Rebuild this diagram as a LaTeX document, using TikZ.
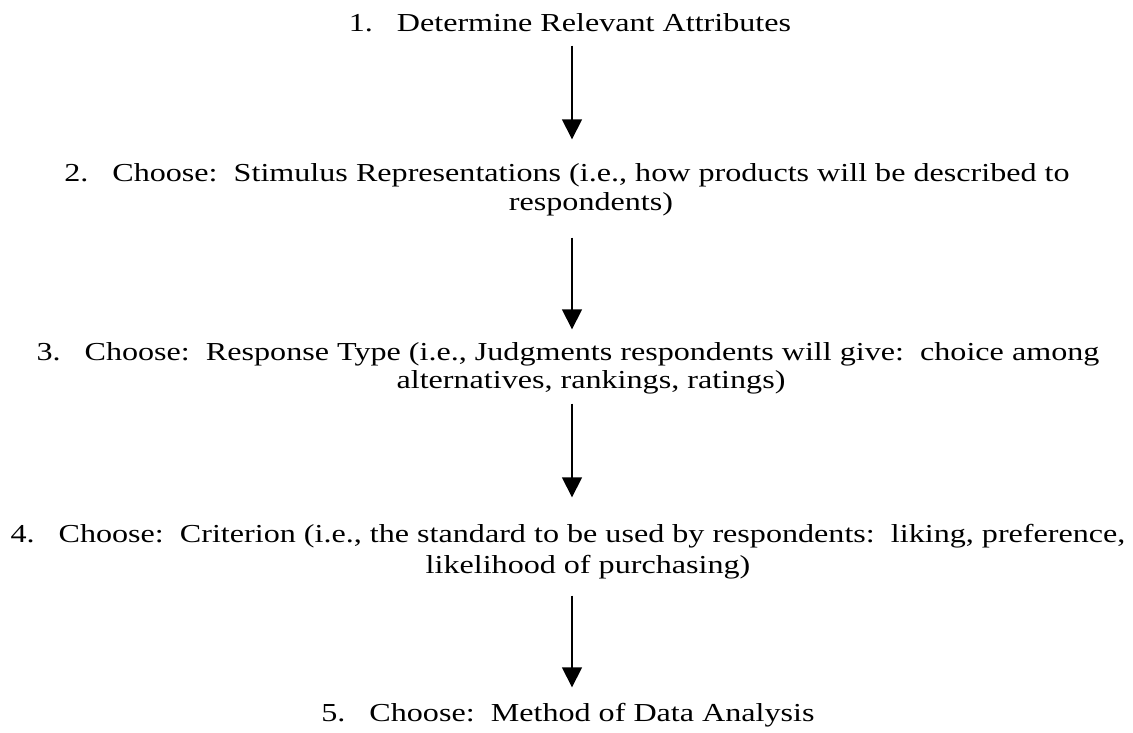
\documentclass[tikz,border=0pt]{standalone}
\usepackage{fontspec}
\setmainfont{Liberation Serif}[FakeStretch=1.24]
\usetikzlibrary{arrows.meta,calc}
\newcommand\itemnum[1]{\makebox[48bp][l]{#1}}
\begin{document}
\begin{tikzpicture}[x=1bp,y=-1bp,
  txt/.style={inner sep=0pt, text height=0pt, text depth=0pt,
    font=\fontsize{26}{29}\selectfont},
  arr/.style={line width=1.6bp, -{Triangle[width=20bp,length=20bp]}}]
\useasboundingbox (0,0) rectangle (1133,733);
\coordinate (ax) at (572,0);
\node[txt] (n1)  at (570,32)  {\itemnum{1.}Determine Relevant Attributes};
\node[txt] (n2a) at (567,182) {\itemnum{2.}Choose:\ \ Stimulus Representations (i.e., how products will be described to};
\node[txt] (n2b) at (591,211) {respondents)};
\node[txt] (n3a) at (568,360) {\itemnum{3.}Choose:\ \ Response Type (i.e., Judgments respondents will give:\ \ choice among};
\node[txt] (n3b) at (591,388) {alternatives, rankings, ratings)};
\node[txt] (n4a) at (568,542) {\itemnum{4.}Choose:\ \ Criterion (i.e., the standard to be used by respondents:\ \ liking, preference,};
\node[txt] (n4b) at (588,573) {likelihood of purchasing)};
\node[txt] (n5)  at (568,721) {\itemnum{5.}Choose:\ \ Method of Data Analysis};
\draw[arr] ($(n1.south -| ax)+(0,13)$) -- ($(n2a.north -| ax)+(0,-42)$);
\draw[arr] ($(n2b.south -| ax)+(0,26)$) -- ($(n3a.north -| ax)+(0,-30)$);
\draw[arr] ($(n3b.south -| ax)+(0,15)$) -- ($(n4a.north -| ax)+(0,-44)$);
\draw[arr] ($(n4b.south -| ax)+(0,22)$) -- ($(n5.north -| ax)+(0,-33)$);
\end{tikzpicture}
\end{document}
